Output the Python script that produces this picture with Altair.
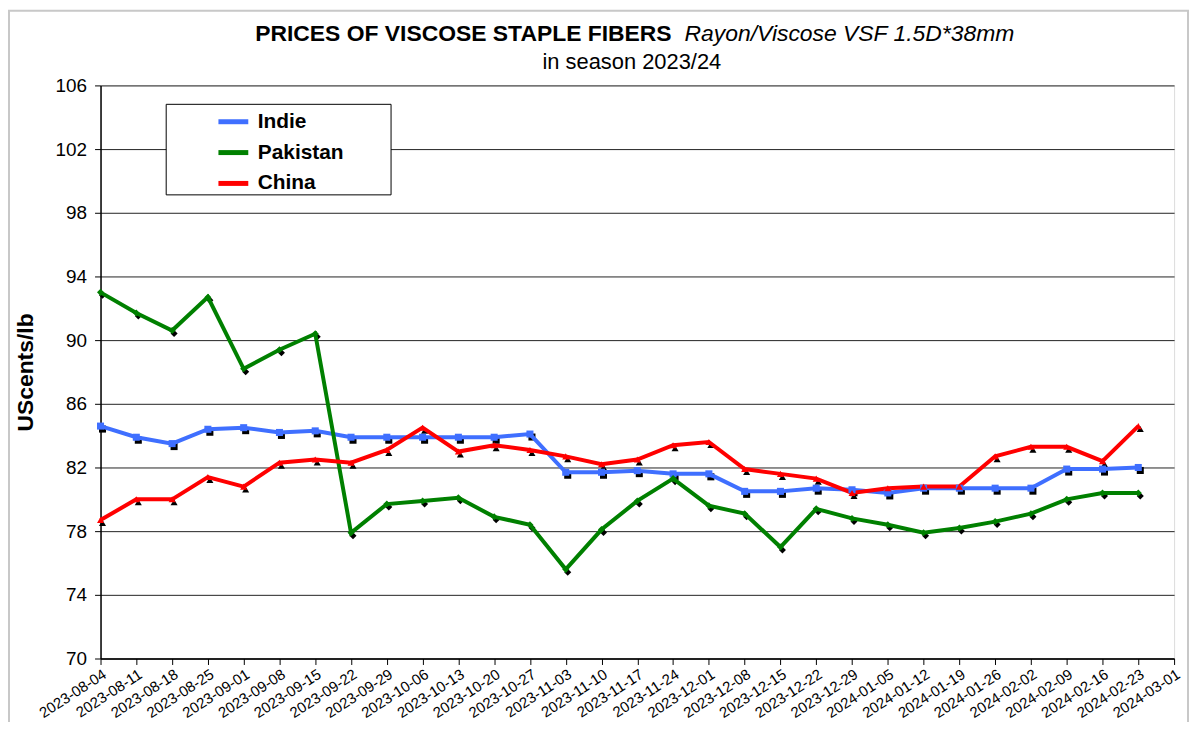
import altair as alt
import pandas as pd

tick_dates = [
    "2023-08-04", "2023-08-11", "2023-08-18", "2023-08-25", "2023-09-01", "2023-09-08",
    "2023-09-15", "2023-09-22", "2023-09-29", "2023-10-06", "2023-10-13", "2023-10-20",
    "2023-10-27", "2023-11-03", "2023-11-10", "2023-11-17", "2023-11-24", "2023-12-01",
    "2023-12-08", "2023-12-15", "2023-12-22", "2023-12-29", "2024-01-05", "2024-01-12",
    "2024-01-19", "2024-01-26", "2024-02-02", "2024-02-09", "2024-02-16", "2024-02-23",
    "2024-03-01",
]
data_dates = tick_dates[:30]

indie = [84.6, 83.9, 83.5, 84.4, 84.5, 84.2, 84.3, 83.9, 83.9, 83.9,
         83.9, 83.9, 84.1, 81.7, 81.7, 81.8, 81.6, 81.6, 80.5, 80.5,
         80.7, 80.6, 80.4, 80.7, 80.7, 80.7, 80.7, 81.9, 81.9, 82.0]
pakistan = [93.0, 91.7, 90.6, 92.7, 88.2, 89.4, 90.4, 77.9, 79.7, 79.9,
            80.1, 78.9, 78.4, 75.6, 78.1, 79.9, 81.3, 79.6, 79.1, 77.0,
            79.4, 78.8, 78.4, 77.9, 78.2, 78.6, 79.1, 80.0, 80.4, 80.4]
china = [78.7, 80.0, 80.0, 81.4, 80.8, 82.3, 82.5, 82.3, 83.1, 84.5,
         83.0, 83.4, 83.1, 82.7, 82.2, 82.5, 83.4, 83.6, 81.9, 81.6,
         81.3, 80.4, 80.7, 80.8, 80.8, 82.7, 83.3, 83.3, 82.4, 84.6]

series_names = ["Indie", "Pakistan", "China"]
series_colors = ["#3F6FFF", "#008000", "#FF0000"]
series_shapes = {"Indie": "square", "Pakistan": "diamond", "China": "triangle-up"}
y_ticks = [70, 74, 78, 82, 86, 90, 94, 98, 102, 106]

rows = []
for name, vals in zip(series_names, [indie, pakistan, china]):
    for d, v in zip(data_dates, vals):
        rows.append({"date": d, "series": name, "value": v})
df = pd.DataFrame(rows)

FONT = "Liberation Sans"

x_enc = alt.X("date:O", scale=alt.Scale(domain=tick_dates, padding=0),
              axis=alt.Axis(title=None, labelAngle=327, labelAlign="right",
                            labelBaseline="top", labelFontSize=15, labelFont=FONT,
                            labelColor="black", tickSize=6, tickColor="black",
                            domainColor="black", domainWidth=1.5, grid=False,
                            labelPadding=2, labelOverlap=False))
y_enc = alt.Y("value:Q", scale=alt.Scale(domain=[70, 106], nice=False, zero=False),
              axis=alt.Axis(title="UScents/lb", values=y_ticks, titleFontSize=23,
                            titleFont=FONT, titleFontWeight="bold", titleColor="black",
                            titlePadding=18, labelFontSize=19, labelFont=FONT,
                            labelColor="black", labelPadding=8, tickSize=6,
                            tickColor="black", domainColor="black", domainWidth=1.5,
                            grid=True, gridColor="#222222", gridWidth=1))

color_scale = alt.Scale(domain=series_names, range=series_colors)
# shape domain in a different order so its legend is not merged with the colour legend
shape_domain = sorted(series_names)
shape_scale = alt.Scale(domain=shape_domain, range=[series_shapes[n] for n in shape_domain])

legend = alt.Legend(title=None, orient="none", legendX=116, legendY=19,
                    direction="vertical", symbolType="stroke",
                    symbolStrokeWidth=5, symbolSize=900,
                    labelFontSize=21, labelFont=FONT,
                    labelFontWeight="bold", labelColor="black",
                    rowPadding=3, padding=0, offset=0, labelOffset=7)

base = alt.Chart(df)

shadow = base.mark_point(filled=True, size=50, color="black", opacity=1,
                         xOffset=2, yOffset=3).encode(
    x=x_enc, y=y_enc,
    shape=alt.Shape("series:N", scale=shape_scale, legend=None),
)

lines = base.mark_line(strokeWidth=4).encode(
    x=x_enc, y=y_enc,
    color=alt.Color("series:N", scale=color_scale, sort=series_names, legend=legend),
)

points = base.mark_point(filled=True, size=50, opacity=1).encode(
    x=x_enc, y=y_enc,
    color=alt.Color("series:N", scale=color_scale, sort=series_names, legend=legend),
    shape=alt.Shape("series:N", scale=shape_scale, legend=None),
)

one = alt.Data(values=[{"k": 1}])
legend_box = alt.Chart(one).mark_rect(fill="white", stroke="black", strokeWidth=1).encode(
    x=alt.value(66), x2=alt.value(292), y=alt.value(19), y2=alt.value(110)
)
title_bold = alt.Chart(one).mark_text(
    text="PRICES OF VISCOSE STAPLE FIBERS", font=FONT, fontSize=23,
    fontWeight="bold", align="right", baseline="alphabetic", color="black"
).encode(x=alt.value(574), y=alt.value(-45))
title_ital = alt.Chart(one).mark_text(
    text="Rayon/Viscose VSF 1.5D*38mm", font=FONT, fontSize=23,
    fontStyle="italic", align="left", baseline="alphabetic", color="black"
).encode(x=alt.value(587), y=alt.value(-45))
subtitle = alt.Chart(one).mark_text(
    text="in season 2023/24", font=FONT, fontSize=22, align="center",
    baseline="alphabetic", color="black"
).encode(x=alt.value(534), y=alt.value(-17))

border = alt.Chart(one).mark_rect(fill=None, stroke="#C8C8C8", strokeWidth=2).encode(
    x=alt.value(-92), x2=alt.value(1093), y=alt.value(-75), y2=alt.value(700)
)

chart = alt.layer(border, legend_box, shadow, lines, points,
                  title_bold, title_ital, subtitle).properties(
    width=1079, height=576,
    autosize=alt.AutoSizeParams(type="none"),
    padding={"left": 93, "top": 76, "right": 16, "bottom": 62},
).configure_view(stroke="#808080", strokeWidth=1).configure(background="white")

chart.save("out.html", embed_options={"renderer": "svg", "actions": False})
